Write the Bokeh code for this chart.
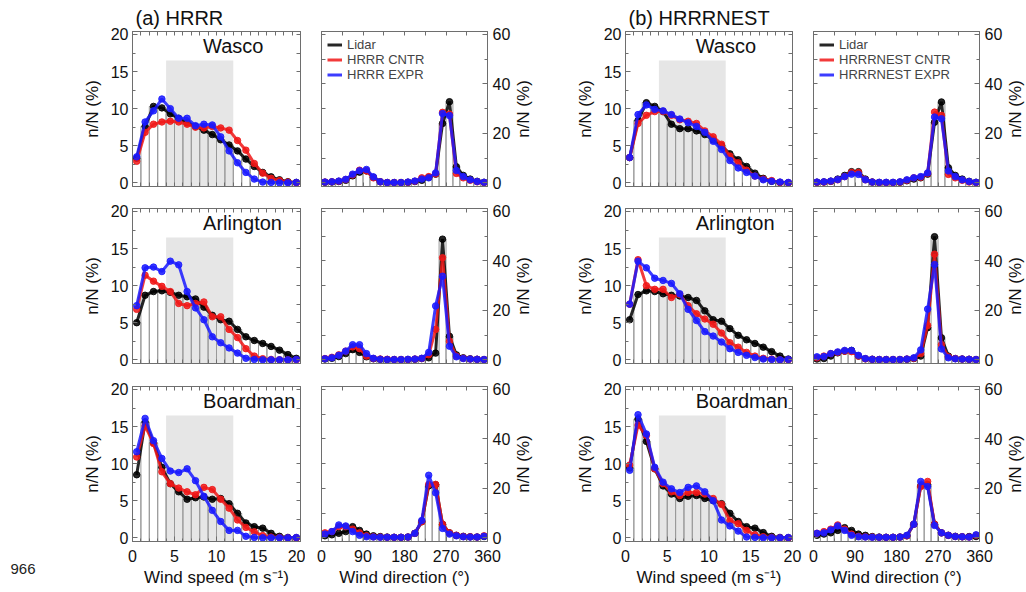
import math
from bokeh.plotting import figure
from bokeh.layouts import column, row
from bokeh.models import (Range1d, LinearAxis, Label, Legend, LegendItem, Title,
                          SingleIntervalTicker, FixedTicker)
from bokeh.embed import file_html
from bokeh.resources import INLINE

FONT = "Liberation Sans"
GRAY = "#6e6e6e"
BAR_GRAY = "#9a9a9a"
SHADE = "#e6e6e6"
C_LID, C_CNTR, C_EXPR = "#000000", "#f01818", "#1a1aff"

# ---------------- data ----------------
ws_centers = [0.5, 1.5, 2.5, 3.5, 4.5, 5.5, 6.5, 7.5, 8.5, 9.5,
              10.5, 11.5, 12.5, 13.5, 14.5, 15.5, 16.5, 17.5, 18.5, 19.5]
wd_centers = [7.5, 22.5, 37.5, 52.5, 67.5, 82.5, 97.5, 112.5, 127.5, 142.5, 157.5, 172.5,
              187.5, 202.5, 217.5, 232.5, 247.5, 262.5, 277.5, 292.5, 307.5, 322.5, 337.5, 352.5]
stations = ["Wasco", "Arlington", "Boardman"]
group_titles = ["(a) HRRR", "(b) HRRRNEST"]
legend_labels_a = ["Lidar", "HRRR CNTR", "HRRR EXPR"]
legend_labels_b = ["Lidar", "HRRRNEST CNTR", "HRRRNEST EXPR"]
y_title = "n/N (%)"
page_number = "966"
shade_range = [4, 12, 16.5]   # wind-speed band shaded (left, right, top)

# (a) HRRR, wind speed
hrrr_ws_wasco_lidar = [3.3, 7.6, 10.3, 10.1, 9.3, 8.7, 8.1, 7.6, 7.1, 6.5, 5.8, 5.1, 4.3, 3.2, 2.2, 1.4, 0.8, 0.4, 0.15, 0.05]
hrrr_ws_wasco_cntr = [2.9, 6.8, 7.9, 8.2, 8.3, 8.2, 7.9, 7.5, 7.4, 7.6, 7.4, 7.1, 5.7, 4.4, 2.6, 1.3, 0.6, 0.3, 0.1, 0.0]
hrrr_ws_wasco_expr = [3.5, 8.2, 9.7, 11.3, 10.0, 8.7, 8.7, 7.7, 7.9, 7.8, 6.2, 4.3, 2.7, 1.4, 0.5, 0.1, 0.05, 0.0, 0.0, 0.05]
hrrr_ws_arlington_lidar = [5.0, 8.7, 9.2, 9.3, 9.1, 8.7, 8.5, 8.2, 7.1, 6.0, 5.4, 5.2, 4.1, 3.1, 2.6, 2.2, 1.8, 1.3, 0.7, 0.2]
hrrr_ws_arlington_cntr = [6.8, 11.4, 10.6, 9.9, 9.2, 7.6, 7.3, 7.6, 7.8, 5.8, 5.8, 4.1, 3.0, 1.5, 0.5, 0.15, 0.05, 0.0, 0.0, 0.0]
hrrr_ws_arlington_expr = [7.3, 12.4, 12.5, 11.9, 13.3, 12.8, 9.2, 7.0, 5.4, 3.1, 2.3, 1.6, 0.9, 0.2, 0.05, 0.0, 0.0, 0.0, 0.0, 0.05]
hrrr_ws_boardman_lidar = [8.5, 15.6, 12.8, 9.5, 7.3, 6.2, 5.2, 5.4, 5.5, 5.2, 5.3, 4.6, 3.3, 2.0, 1.5, 1.3, 0.6, 0.2, 0.05, 0.0]
hrrr_ws_boardman_cntr = [10.9, 15.1, 12.7, 8.9, 7.3, 6.7, 6.2, 5.8, 6.8, 6.5, 5.2, 4.0, 2.4, 1.4, 0.8, 0.3, 0.1, 0.05, 0.0, 0.0]
hrrr_ws_boardman_expr = [11.6, 16.1, 13.1, 10.7, 9.0, 8.8, 9.3, 7.7, 5.6, 3.7, 2.2, 1.0, 1.0, 0.2, 0.05, 0.0, 0.0, 0.0, 0.0, 0.05]

# (b) HRRRNEST, wind speed
nest_ws_wasco_lidar = [3.4, 8.4, 10.8, 10.3, 9.6, 7.9, 7.3, 7.3, 7.0, 6.5, 5.8, 5.0, 3.9, 3.1, 2.2, 1.3, 0.6, 0.2, 0.05, 0.0]
nest_ws_wasco_cntr = [3.4, 8.0, 9.1, 9.6, 9.6, 9.1, 8.5, 8.3, 8.0, 7.0, 6.2, 5.2, 3.6, 2.7, 1.7, 0.9, 0.5, 0.3, 0.05, 0.0]
nest_ws_wasco_expr = [3.4, 9.2, 10.5, 9.9, 9.7, 9.2, 8.6, 8.1, 7.6, 6.8, 5.6, 4.5, 3.0, 2.0, 1.4, 0.9, 0.4, 0.2, 0.1, 0.05]
nest_ws_arlington_lidar = [5.4, 8.8, 9.3, 9.2, 8.9, 8.7, 8.6, 8.4, 8.0, 6.6, 5.4, 5.2, 4.2, 3.3, 2.7, 2.2, 1.7, 1.1, 0.5, 0.1]
nest_ws_arlington_cntr = [7.5, 13.5, 10.0, 9.5, 9.5, 8.4, 8.8, 7.3, 6.2, 5.5, 4.8, 3.6, 2.3, 1.7, 1.0, 0.5, 0.2, 0.1, 0.0, 0.0]
nest_ws_arlington_expr = [7.5, 13.3, 12.4, 11.0, 10.7, 10.3, 8.9, 6.8, 5.3, 3.8, 3.2, 2.4, 1.5, 1.0, 0.6, 0.3, 0.1, 0.05, 0.0, 0.05]
nest_ws_boardman_lidar = [9.4, 16.0, 13.0, 9.3, 7.0, 5.9, 5.3, 5.6, 5.7, 5.3, 5.0, 4.6, 3.3, 2.2, 1.5, 1.3, 0.7, 0.2, 0.05, 0.0]
nest_ws_boardman_cntr = [9.8, 15.2, 13.8, 9.3, 7.3, 6.2, 5.7, 6.1, 6.1, 5.9, 5.3, 4.5, 2.3, 1.9, 1.0, 0.4, 0.15, 0.05, 0.0, 0.0]
nest_ws_boardman_expr = [9.1, 16.6, 14.0, 9.5, 7.5, 6.6, 6.1, 6.8, 7.0, 6.2, 5.0, 2.4, 1.6, 0.9, 0.1, 0.05, 0.0, 0.0, 0.0, 0.05]

# (a) HRRR, wind direction
hrrr_wd_wasco_lidar = [0.2, 0.3, 0.5, 1.0, 2.8, 4.3, 4.8, 2.2, 0.4, 0.1, 0.1, 0.1, 0.2, 0.5, 1.0, 2.2, 3.5, 24.0, 32.8, 6.5, 3.0, 1.5, 0.6, 0.2]
hrrr_wd_wasco_cntr = [0.3, 0.4, 0.6, 1.3, 3.2, 5.1, 4.8, 2.0, 0.4, 0.1, 0.1, 0.1, 0.2, 0.6, 2.0, 2.5, 3.6, 28.5, 27.8, 3.8, 2.0, 1.0, 0.4, 0.1]
hrrr_wd_wasco_expr = [0.3, 0.4, 0.7, 1.4, 3.5, 4.9, 5.4, 2.4, 0.4, 0.1, 0.1, 0.1, 0.3, 0.7, 1.5, 2.0, 4.0, 28.0, 27.2, 5.0, 2.5, 1.2, 0.5, 0.2]
hrrr_wd_arlington_lidar = [0.3, 0.6, 1.3, 2.5, 4.1, 3.0, 1.2, 0.4, 0.2, 0.1, 0.1, 0.1, 0.1, 0.2, 0.5, 0.8, 2.7, 48.8, 9.5, 2.0, 0.8, 0.4, 0.2, 0.1]
hrrr_wd_arlington_cntr = [0.5, 1.0, 2.0, 3.5, 5.2, 4.5, 1.5, 0.5, 0.3, 0.2, 0.1, 0.1, 0.1, 0.3, 0.5, 2.0, 12.3, 41.3, 7.5, 1.5, 0.6, 0.3, 0.2, 0.1]
hrrr_wd_arlington_expr = [0.4, 0.8, 1.8, 3.5, 6.1, 6.1, 2.5, 0.6, 0.2, 0.1, 0.1, 0.1, 0.2, 0.3, 0.6, 3.0, 21.8, 33.8, 5.5, 1.2, 0.5, 0.3, 0.2, 0.1]
hrrr_wd_boardman_lidar = [0.8, 1.2, 1.8, 2.5, 4.5, 3.0, 1.5, 0.8, 0.5, 0.3, 0.2, 0.2, 0.3, 1.8, 6.5, 21.0, 21.5, 5.5, 2.0, 1.0, 0.6, 0.4, 0.3, 0.5]
hrrr_wd_boardman_cntr = [2.0, 2.5, 4.5, 4.5, 3.5, 2.0, 0.8, 0.4, 0.3, 0.2, 0.2, 0.2, 0.3, 1.8, 6.5, 21.6, 21.6, 5.5, 2.0, 1.0, 0.5, 0.4, 0.3, 0.8]
hrrr_wd_boardman_expr = [1.5, 2.5, 5.2, 4.8, 2.5, 1.0, 0.4, 0.3, 0.2, 0.2, 0.2, 0.2, 0.3, 1.8, 7.0, 25.3, 18.2, 3.8, 1.5, 0.8, 0.4, 0.3, 0.3, 0.6]

# (b) HRRRNEST, wind direction
nest_wd_wasco_lidar = [0.2, 0.3, 0.6, 1.5, 3.0, 4.5, 4.5, 1.5, 0.3, 0.1, 0.1, 0.1, 0.2, 0.8, 1.5, 2.0, 3.5, 24.5, 32.7, 6.1, 3.0, 1.5, 0.6, 0.2]
nest_wd_wasco_cntr = [0.2, 0.3, 0.6, 1.2, 2.5, 4.2, 4.2, 1.2, 0.3, 0.1, 0.1, 0.1, 0.3, 1.0, 2.0, 2.2, 3.8, 28.6, 27.3, 3.4, 2.0, 1.0, 0.3, 0.1]
nest_wd_wasco_expr = [0.3, 0.4, 0.7, 1.3, 2.5, 3.5, 3.4, 1.2, 0.3, 0.2, 0.2, 0.2, 0.4, 1.2, 2.0, 2.5, 4.0, 26.6, 25.9, 4.8, 2.5, 1.2, 0.5, 0.2]
nest_wd_arlington_lidar = [0.3, 0.5, 1.5, 2.8, 3.5, 3.8, 1.5, 0.4, 0.2, 0.1, 0.1, 0.1, 0.1, 0.2, 0.5, 1.5, 13.0, 49.8, 8.9, 1.5, 0.5, 0.3, 0.2, 0.1]
nest_wd_arlington_cntr = [0.8, 1.5, 2.5, 3.0, 3.5, 3.3, 1.5, 0.4, 0.2, 0.1, 0.1, 0.1, 0.1, 0.3, 0.6, 2.5, 13.9, 42.7, 6.1, 1.2, 0.5, 0.3, 0.2, 0.1]
nest_wd_arlington_expr = [1.2, 1.3, 2.5, 3.2, 3.8, 3.8, 1.8, 0.5, 0.2, 0.1, 0.1, 0.1, 0.1, 0.3, 0.8, 4.0, 20.5, 38.5, 4.4, 0.8, 0.4, 0.3, 0.2, 0.1]
nest_wd_boardman_lidar = [1.0, 1.5, 2.0, 3.0, 4.1, 3.0, 1.5, 1.0, 0.5, 0.3, 0.2, 0.2, 0.3, 0.8, 5.5, 21.0, 21.5, 5.5, 2.0, 1.0, 0.6, 0.4, 0.5, 0.5]
nest_wd_boardman_cntr = [1.8, 2.5, 3.5, 5.2, 3.5, 1.5, 0.6, 0.4, 0.3, 0.2, 0.2, 0.2, 0.3, 0.8, 5.5, 20.7, 22.8, 5.5, 2.0, 1.0, 0.5, 0.4, 0.3, 1.0]
nest_wd_boardman_expr = [1.8, 2.0, 3.2, 4.8, 3.0, 1.0, 0.4, 0.3, 0.2, 0.2, 0.2, 0.2, 0.3, 1.0, 5.5, 22.8, 20.7, 5.0, 2.0, 1.0, 0.5, 0.4, 0.3, 1.2]

WS_DATA = {
    0: [(hrrr_ws_wasco_lidar, hrrr_ws_wasco_cntr, hrrr_ws_wasco_expr),
        (hrrr_ws_arlington_lidar, hrrr_ws_arlington_cntr, hrrr_ws_arlington_expr),
        (hrrr_ws_boardman_lidar, hrrr_ws_boardman_cntr, hrrr_ws_boardman_expr)],
    1: [(nest_ws_wasco_lidar, nest_ws_wasco_cntr, nest_ws_wasco_expr),
        (nest_ws_arlington_lidar, nest_ws_arlington_cntr, nest_ws_arlington_expr),
        (nest_ws_boardman_lidar, nest_ws_boardman_cntr, nest_ws_boardman_expr)],
}
WD_DATA = {
    0: [(hrrr_wd_wasco_lidar, hrrr_wd_wasco_cntr, hrrr_wd_wasco_expr),
        (hrrr_wd_arlington_lidar, hrrr_wd_arlington_cntr, hrrr_wd_arlington_expr),
        (hrrr_wd_boardman_lidar, hrrr_wd_boardman_cntr, hrrr_wd_boardman_expr)],
    1: [(nest_wd_wasco_lidar, nest_wd_wasco_cntr, nest_wd_wasco_expr),
        (nest_wd_arlington_lidar, nest_wd_arlington_cntr, nest_wd_arlington_expr),
        (nest_wd_boardman_lidar, nest_wd_boardman_cntr, nest_wd_boardman_expr)],
}

# ---------------- layout geometry ----------------
WS_Y = (-0.5, 20.4)
WD_Y = (-1.5, 61.2)
FRAME_H = 155
H = 592
STRIP_W = 60
# per column: (min_border_left, frame_width, min_border_right)
COLS = [(132 - STRIP_W, 168, 5), (16, 166, 25), (64, 167, 10), (11, 166, 25)]
RSTRIP = [48, 23]            # widths of strips holding the right-hand axis titles
# per row: (min_border_top, min_border_bottom)
ROWS = [(31, 10), (12, 10), (13, 51)]
FRAME_MID = [H - 108.5, H - 285.5, H - 463.5]   # frame centres, measured from the bottom


def style_axis(ax, font_size="16px", standoff=5):
    ax.major_tick_in = 5
    ax.major_tick_out = 0
    ax.minor_tick_in = 3
    ax.minor_tick_out = 0
    ax.axis_line_color = GRAY
    ax.major_tick_line_color = GRAY
    ax.minor_tick_line_color = GRAY
    ax.major_label_text_font = FONT
    ax.major_label_text_color = "#111111"
    ax.major_label_text_font_size = font_size
    ax.major_label_standoff = standoff
    ax.axis_label_text_font = FONT
    ax.axis_label_text_font_style = "normal"
    ax.axis_label_text_font_size = "17px"
    ax.axis_label_text_color = "#111111"


def tick_only_axis(lo, hi, step):
    # an axis that only draws inward tick marks (no labels)
    ticks = [lo + i * step for i in range(int(round((hi - lo) / step)) + 1)]
    ax = LinearAxis(ticker=FixedTicker(ticks=[], minor_ticks=ticks))
    ax.minor_tick_in = 4
    ax.minor_tick_out = 0
    ax.major_tick_in = 0
    ax.major_tick_out = 0
    ax.minor_tick_line_color = GRAY
    ax.axis_line_color = GRAY
    ax.major_label_standoff = 0
    return ax


def blank_fig(width):
    f = figure(frame_width=width, frame_height=H, x_range=Range1d(0, width),
               y_range=Range1d(0, H), min_border=0, x_axis_location=None,
               y_axis_location=None, toolbar_location=None, output_backend="svg")
    f.xgrid.visible = False
    f.ygrid.visible = False
    f.outline_line_color = None
    return f


def make_panel(kind, group, r):
    col = group * 2 + (0 if kind == "ws" else 1)
    bl, fw, br = COLS[col]
    bt, bb = ROWS[r]
    if kind == "ws":
        xr, yr = Range1d(0, 20), Range1d(*WS_Y)
        xcent = ws_centers
        half = 0.5
        lid, cntr, expr = WS_DATA[group][r]
        ymin = WS_Y[0]
    else:
        xr, yr = Range1d(0, 360), Range1d(*WD_Y)
        xcent = wd_centers
        half = 7.5
        lid, cntr, expr = WD_DATA[group][r]
        ymin = WD_Y[0]

    p = figure(frame_width=fw, frame_height=FRAME_H, x_range=xr, y_range=yr,
               min_border_left=bl, min_border_right=br,
               min_border_top=bt, min_border_bottom=bb,
               x_axis_location=None, y_axis_location=None,
               toolbar_location=None, output_backend="svg")
    p.xgrid.visible = False
    p.ygrid.visible = False
    p.outline_line_color = GRAY
    p.background_fill_color = "white"
    p.border_fill_color = "white"

    if kind == "ws":
        xt = lambda: SingleIntervalTicker(interval=5, num_minor_ticks=5)
        yt = lambda: SingleIntervalTicker(interval=5, num_minor_ticks=2)
        top = tick_only_axis(0, 20, 1)
        side = tick_only_axis(0, 20, 2.5)
    else:
        xt = lambda: SingleIntervalTicker(interval=90, num_minor_ticks=2)
        yt = lambda: SingleIntervalTicker(interval=20, num_minor_ticks=2)
        top = tick_only_axis(0, 360, 45)
        side = tick_only_axis(0, 60, 10)

    if r == 2:
        bottom = LinearAxis(ticker=xt())
        style_axis(bottom, standoff=8)
        bottom.axis_label = "Wind speed (m s\u207b\u00b9)" if kind == "ws" else "Wind direction (\u00b0)"
        bottom.axis_label_standoff = 3
    else:
        bottom = tick_only_axis(0, 20, 1) if kind == "ws" else tick_only_axis(0, 360, 45)
    p.add_layout(bottom, "below")
    p.add_layout(top, "above")

    lab = LinearAxis(ticker=yt())
    if kind == "ws":
        style_axis(lab, standoff=4)
        lab.axis_label = y_title
        lab.axis_label_standoff = 6
        p.add_layout(lab, "left")
        p.add_layout(side, "right")
    else:
        style_axis(lab, standoff=5)
        p.add_layout(side, "left")
        p.add_layout(lab, "right")

    if kind == "ws":
        p.quad(left=[shade_range[0]], right=[shade_range[1]], bottom=[ymin], top=[shade_range[2]],
               fill_color=SHADE, line_color=None)

    p.quad(left=[c - half for c in xcent], right=[c + half for c in xcent],
           bottom=[ymin] * len(xcent), top=lid,
           fill_color=None, line_color=BAR_GRAY, line_width=1)

    rends = []
    for ys, colr in ((lid, C_LID), (cntr, C_CNTR), (expr, C_EXPR)):
        ln = p.line(xcent, ys, line_color=colr, line_width=3, line_alpha=0.85)
        p.scatter(xcent, ys, size=6.5, fill_color=colr, line_color=colr, alpha=0.85)
        rends.append(ln)

    if kind == "ws":
        p.add_layout(Label(x=8.4, y=18.4, text=stations[r], text_font=FONT,
                           text_font_size="20px", text_align="left",
                           text_baseline="alphabetic", text_color="#111111"))
        if r == 0:
            t = Title(text=group_titles[group], align="left", offset=3, standoff=6,
                      text_font=FONT, text_font_size="20px", text_font_style="normal",
                      text_color="#111111")
            p.add_layout(t, "above")
    elif r == 0:
        labs = legend_labels_a if group == 0 else legend_labels_b
        leg = Legend(items=[LegendItem(label=l, renderers=[rr]) for l, rr in zip(labs, rends)],
                     location="top_left", margin=6, padding=2, spacing=0,
                     label_height=13, glyph_height=13, glyph_width=15, label_standoff=5,
                     label_text_font=FONT, label_text_font_size="13px",
                     label_text_line_height=1.0,
                     border_line_color=None, background_fill_alpha=0)
        p.add_layout(leg)
    return p


# left strip carrying the page line number
strip0 = blank_fig(STRIP_W)
strip0.add_layout(Label(x=10, y=24, text=page_number, text_font=FONT, text_font_size="15px",
                        text_align="left", text_baseline="alphabetic", text_color="#222222"))

# strips carrying the right-hand "n/N (%)" titles (reading bottom to top)
rstrips = []
for g in range(2):
    s = blank_fig(RSTRIP[g])
    for r in range(3):
        s.add_layout(Label(x=10, y=FRAME_MID[r], text=y_title, angle=math.pi / 2,
                           text_font=FONT, text_font_size="17px", text_align="center",
                           text_baseline="middle", text_color="#111111"))
    rstrips.append(s)

cols = []
for g in range(2):
    cols.append(column(*[make_panel("ws", g, r) for r in range(3)]))
    cols.append(column(*[make_panel("wd", g, r) for r in range(3)]))

layout = row(strip0, cols[0], cols[1], rstrips[0], cols[2], cols[3], rstrips[1])

open("out.html", "w").write(file_html(layout, INLINE))
